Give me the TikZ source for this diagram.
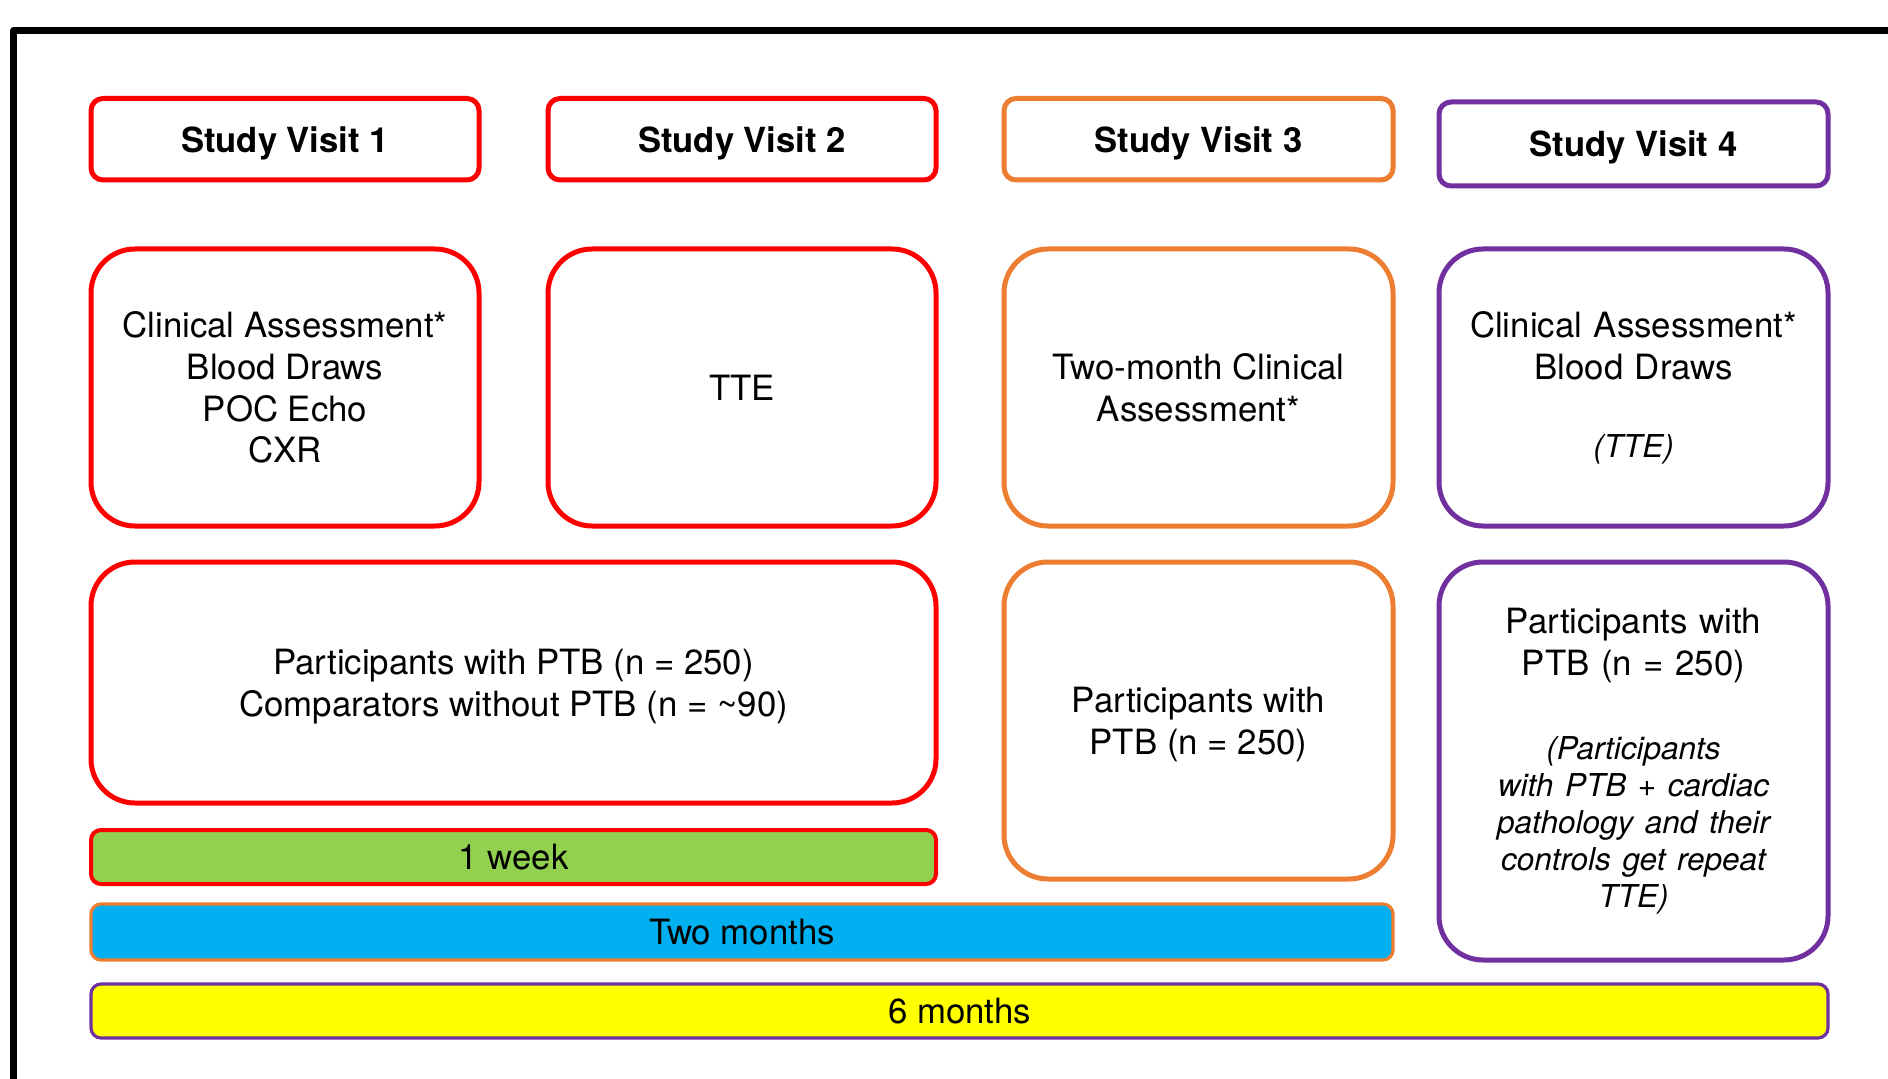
\documentclass[tikz,border=0pt]{standalone}
\usepackage{fontspec}
\setmainfont{TeX Gyre Heros}
\definecolor{cred}{RGB}{255,0,0}
\definecolor{corange}{RGB}{237,125,49}
\definecolor{cpurple}{RGB}{112,48,160}
\definecolor{cgreen}{RGB}{146,208,80}
\definecolor{cblue}{RGB}{0,176,240}
\definecolor{cyellow}{RGB}{255,255,0}
\newcommand\boxat[7]{\node[#2,minimum width={(#5-#3)*0.5pt},minimum height={(#6-#4)*0.5pt}] (#1) at ({(#3+#5)/2},{(#4+#6)/2}) {#7};}
\begin{document}
\begin{tikzpicture}[x=0.5pt,y=-0.5pt,
  hdr/.style={draw, line width=2.5pt, rounded corners=6pt, inner sep=0pt,
    font=\fontsize{17.3pt}{20.8pt}\selectfont\bfseries, align=center, text depth=0pt},
  card/.style={draw, line width=2.5pt, rounded corners=22pt, inner sep=0pt,
    font=\fontsize{17.4pt}{20.9pt}\selectfont, align=center},
  mixcard/.style={card, text width=180pt},
  bar/.style={draw, line width=1.6pt, rounded corners=5pt, inner sep=0pt,
    font=\fontsize{17.4pt}{20.9pt}\selectfont},
  frameline/.style={line width=3.5pt, line join=round}]
\useasboundingbox (0,0) rectangle (1888,1079);
\draw[frameline] (13.5,1090) -- (13.5,31) -- (1900,31);
% headers
\boxat{h1}{hdr,cred,text=black}{91}{98.5}{479}{180}{Study Visit 1}
\boxat{h2}{hdr,cred,text=black}{548}{98.5}{936}{180}{Study Visit 2}
\boxat{h3}{hdr,corange,text=black}{1004}{98.5}{1393}{180}{Study Visit 3}
\boxat{h4}{hdr,cpurple,text=black}{1439}{102}{1828}{186}{Study Visit 4}
% row 2
\boxat{c1}{card,cred,text=black}{91}{249}{479}{526}{Clinical Assessment*\\Blood Draws\\POC Echo\\CXR}
\boxat{c2}{card,cred,text=black}{548}{249}{936}{526}{TTE}
\boxat{c3}{card,corange,text=black}{1004}{249}{1393}{526}{Two-month Clinical\\Assessment*}
\boxat{c4}{mixcard,cpurple,text=black}{1439}{249}{1828}{526}{\parskip=0pt Clinical Assessment*\\Blood Draws\par\vspace{20.5pt}{\fontsize{15.75pt}{18.5pt}\selectfont\itshape (TTE)\par}\vspace{-0.5pt}}
% row 3
\boxat{p1}{card,cred,text=black,text depth=0pt}{91}{562}{936}{803}{Participants with PTB (n = 250)\\Comparators without PTB (n = \textasciitilde90)}
\boxat{p3}{card,corange,text=black,text depth=0pt}{1004}{562}{1393}{879}{Participants with\\PTB (n = 250)}
\boxat{p4}{mixcard,cpurple,text=black}{1439}{562}{1828}{960}{\parskip=0pt Participants with\\PTB (n = 250)\par\vspace{23.5pt}{\fontsize{15.75pt}{18.5pt}\selectfont\itshape (Participants\\with PTB + cardiac\\pathology and their\\controls get repeat\\TTE)\par}}
% bars
\boxat{b1}{bar,draw=cred,line width=2pt,fill=cgreen}{91}{830}{936}{884}{1 week}
\boxat{b2}{bar,draw=corange,fill=cblue}{91}{904}{1393}{960}{Two months}
\boxat{b3}{bar,draw=cpurple,fill=cyellow}{91}{984}{1828}{1038}{6 months}
\end{tikzpicture}
\end{document}
